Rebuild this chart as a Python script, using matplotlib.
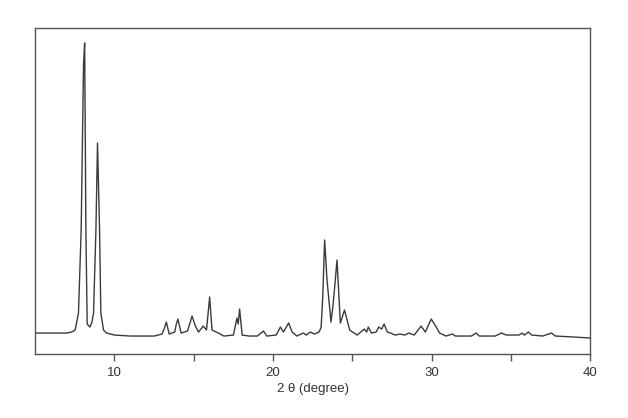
import matplotlib
matplotlib.use("Agg")
import matplotlib.pyplot as plt

two_theta = [
    5.0, 6.0, 7.0, 7.3, 7.52, 7.73, 7.9, 8.05, 8.12, 8.2, 8.28, 8.45,
    8.58, 8.68, 8.83, 8.93, 9.06, 9.14, 9.31, 9.5, 10.0, 11.0, 12.0, 12.5,
    13.0, 13.15, 13.27, 13.45, 13.8, 13.9, 14.0, 14.2, 14.6, 14.8, 14.89, 15.1, 15.3, 15.6, 15.8,
    15.93, 16.0, 16.15, 16.55, 16.9, 17.5, 17.72, 17.8, 17.89, 18.05, 18.5, 19.0, 19.4,
    19.6, 20.2, 20.46, 20.65, 20.98, 21.2, 21.5, 21.9, 22.1, 22.35, 22.6, 22.9,
    23.03, 23.13, 23.25, 23.4, 23.65, 23.78, 23.9, 24.03, 24.24, 24.5, 24.65, 24.83,
    25.3, 25.75, 25.9, 26.0, 26.2, 26.5, 26.66, 26.85, 27.0, 27.2, 27.4, 27.7,
    28.0, 28.3, 28.55, 28.9, 29.33, 29.6, 29.97, 30.17, 30.5, 30.9, 31.3, 31.5,
    32.5, 32.8, 33.0, 34.0, 34.4, 34.7, 35.5, 35.7, 35.85, 36.1, 36.3, 37.0,
    37.55, 37.8, 39.0, 40.0,
]
intensity = [
    21, 21, 21, 22, 24, 41, 124, 290, 311, 120, 30, 27,
    32, 41, 124, 211, 124, 41, 24, 21, 19, 18, 18, 18,
    20, 26, 32, 20, 22, 30, 35, 21, 23, 33, 38, 28, 22, 28, 24,
    45, 57, 24, 21, 18, 19, 36, 30, 45, 19, 18, 18, 23,
    18, 19, 27, 22, 31, 22, 18, 21, 19, 22, 20, 22,
    27, 57, 114, 74, 32, 49, 70, 94, 31, 44, 35, 24,
    19, 25, 22, 27, 21, 22, 27, 25, 30, 22, 21, 19,
    20, 19, 21, 19, 28, 22, 35, 30, 21, 18, 20, 18,
    18, 21, 18, 18, 21, 19, 19, 21, 19, 22, 19, 18,
    21, 18, 17, 16,
]

plt.rcParams['font.family'] = ['Liberation Sans', 'DejaVu Sans']

fig = plt.figure(figsize=(6.28, 4.18), dpi=100)
ax = fig.add_axes([0.056, 0.153, 0.884, 0.78])

ax.plot(two_theta, intensity, color='#3a3a3a', linewidth=1.0)

ax.set_xlim(5, 40)
ax.set_ylim(0, 326)
ax.set_xticks([10, 20, 30, 40])
ax.set_xticks([15, 25, 35], minor=True)
ax.tick_params(axis='x', which='both', direction='out', length=5, width=1,
               color='#555555', labelsize=9.5, labelcolor='#333333', pad=4)
ax.set_yticks([])
for s in ax.spines.values():
    s.set_color('#555555')
    s.set_linewidth(1.0)

ax.set_xlabel('2 θ (degree)', fontsize=9.5, color='#333333', labelpad=3)

fig.savefig('out.png', dpi=100)
